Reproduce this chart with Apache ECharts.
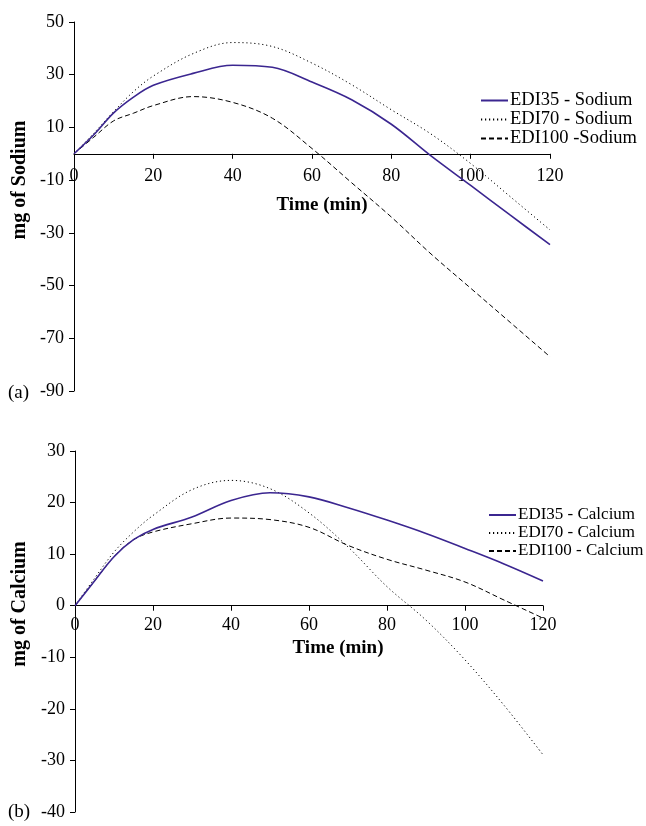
<!DOCTYPE html>
<html>
<head>
<meta charset="utf-8">
<script src="https://cdn.jsdelivr.net/npm/echarts@6/dist/echarts.min.js"></script>
<style>
  html, body { margin: 0; padding: 0; background: #fff; }
  #chart { width: 646px; height: 826px; }
</style>
</head>
<body>
<div id="chart"></div>
<script>
// time (min)
var timePoints = [0, 5, 10, 15, 20, 30, 40, 50, 60, 70, 80, 90, 100, 110, 120]

// (a) sodium, mg
var sodium35 = [0, 7.2, 15.5, 21.5, 26, 30.5, 33.6, 32.8, 27.2, 20.5, 11.2, -0.8, -12, -23.3, -34.5]
var sodium70 = [0, 7.8, 16, 23.6, 29.5, 38, 42.2, 40.7, 34.4, 26.2, 16.7, 7.5, -3.7, -16.3, -28.9]
var sodium100 = [0, 6.3, 12.5, 15.4, 18.3, 21.7, 19.5, 13.5, 2, -11, -24, -38, -51, -64, -77]

// (b) calcium, mg
var calcium35 = [0, 4.8, 9.5, 12.8, 14.8, 17.2, 20.4, 21.9, 21.1, 19, 16.6, 14, 11.1, 8.1, 4.8]
var calcium70 = [0, 5.3, 10.4, 14.3, 17.5, 22.5, 24.3, 22.7, 18, 11.4, 3.7, -2.8, -10.5, -19.3, -28.9]
var calcium100 = [0, 4.8, 9.5, 12.8, 14.3, 15.9, 17, 16.7, 15.2, 11.7, 9, 6.9, 4.6, 1.1, -2.4]

var sodiumNames = ['EDI35 - Sodium', 'EDI70 - Sodium', 'EDI100 -Sodium']
var calciumNames = ['EDI35 - Calcium', 'EDI70 - Calcium', 'EDI100 - Calcium']

var FONT = 'Liberation Serif, Times New Roman, serif'
var PURPLE = '#3b2690'

// grid boxes (px)
var grids = [
  { left: 74, top: 22, width: 476, height: 369 },
  { left: 75, top: 451, width: 468, height: 361 }
]
var yRanges = [[-90, 50, 20], [-40, 30, 10]]

function pairs(vals) {
  return timePoints.map(function (t, i) { return [t, vals[i]] })
}

function lineStyleFor(k) {
  if (k === 0) return { color: PURPLE, width: 1.6, type: 'solid' }
  if (k === 1) return { color: '#000', width: 1, type: [1.2, 2.8] }
  return { color: '#000', width: 1, type: [5, 3] }
}

function makeSeries(names, arrs, idx) {
  return names.map(function (n, k) {
    return {
      name: n,
      type: 'line',
      xAxisIndex: idx,
      yAxisIndex: idx,
      data: pairs(arrs[k]),
      smooth: 0.35,
      symbol: 'none',
      showSymbol: false,
      lineStyle: lineStyleFor(k),
      itemStyle: { color: k === 0 ? PURPLE : '#000' },
      z: 3 - k
    }
  })
}

// x axis sits on y = 0: move it up from the grid bottom
function xAxisFor(idx, margin) {
  var r = yRanges[idx]
  var zeroUp = grids[idx].height * (0 - r[0]) / (r[1] - r[0])
  return {
    type: 'value',
    gridIndex: idx,
    position: 'bottom',
    offset: -zeroUp,
    min: 0,
    max: 120,
    interval: 20,
    axisLine: { onZero: false, lineStyle: { color: '#000', width: 1 } },
    axisTick: { show: true, inside: false, length: 5, lineStyle: { color: '#000' } },
    axisLabel: { color: '#000', fontFamily: FONT, fontSize: 18, margin: margin },
    splitLine: { show: false }
  }
}

function yAxisFor(idx) {
  var r = yRanges[idx]
  return {
    type: 'value',
    gridIndex: idx,
    min: r[0],
    max: r[1],
    interval: r[2],
    axisLine: { show: true, onZero: false, lineStyle: { color: '#000', width: 1 } },
    axisTick: { show: true, inside: false, length: 5, lineStyle: { color: '#000' } },
    axisLabel: { color: '#000', fontFamily: FONT, fontSize: 18, margin: 10 },
    splitLine: { show: false }
  }
}

function legendFor(names, left, top, size) {
  return {
    data: names,
    orient: 'vertical',
    left: left,
    top: top,
    padding: 0,
    itemWidth: 27,
    itemHeight: 10,
    itemGap: 0,
    itemStyle: { color: 'transparent', borderColor: 'transparent', borderWidth: 0 },
    textStyle: { color: '#000', fontFamily: FONT, fontSize: size, lineHeight: 18, padding: [0, 0, 0, -3] }
  }
}

function label(text, x, y, font, rot) {
  return {
    type: 'text',
    x: x,
    y: y,
    rotation: rot || 0,
    style: {
      text: text,
      fill: '#000',
      font: font,
      textAlign: rot ? 'center' : (font.indexOf('bold') === 0 ? 'center' : 'left'),
      textVerticalAlign: 'middle'
    }
  }
}

var chart = echarts.init(document.getElementById('chart'))

chart.setOption({
  backgroundColor: '#fff',
  animation: false,
  grid: grids,
  xAxis: [xAxisFor(0, 13), xAxisFor(1, 11)],
  yAxis: [yAxisFor(0), yAxisFor(1)],
  legend: [legendFor(sodiumNames, 480, 91, 18.5), legendFor(calciumNames, 488, 506, 17)],
  series: makeSeries(sodiumNames, [sodium35, sodium70, sodium100], 0)
    .concat(makeSeries(calciumNames, [calcium35, calcium70, calcium100], 1)),
  graphic: [
    label('Time (min)', 322, 205, 'bold 19px ' + FONT),
    label('Time (min)', 338, 648, 'bold 19px ' + FONT),
    label('mg of Sodium', 20, 180, 'bold 20px ' + FONT, Math.PI / 2),
    label('mg of Calcium', 20, 604, 'bold 20px ' + FONT, Math.PI / 2),
    label('(a)', 8, 393, '19px ' + FONT),
    label('(b)', 8, 812, '19px ' + FONT)
  ]
})
</script>
</body>
</html>
